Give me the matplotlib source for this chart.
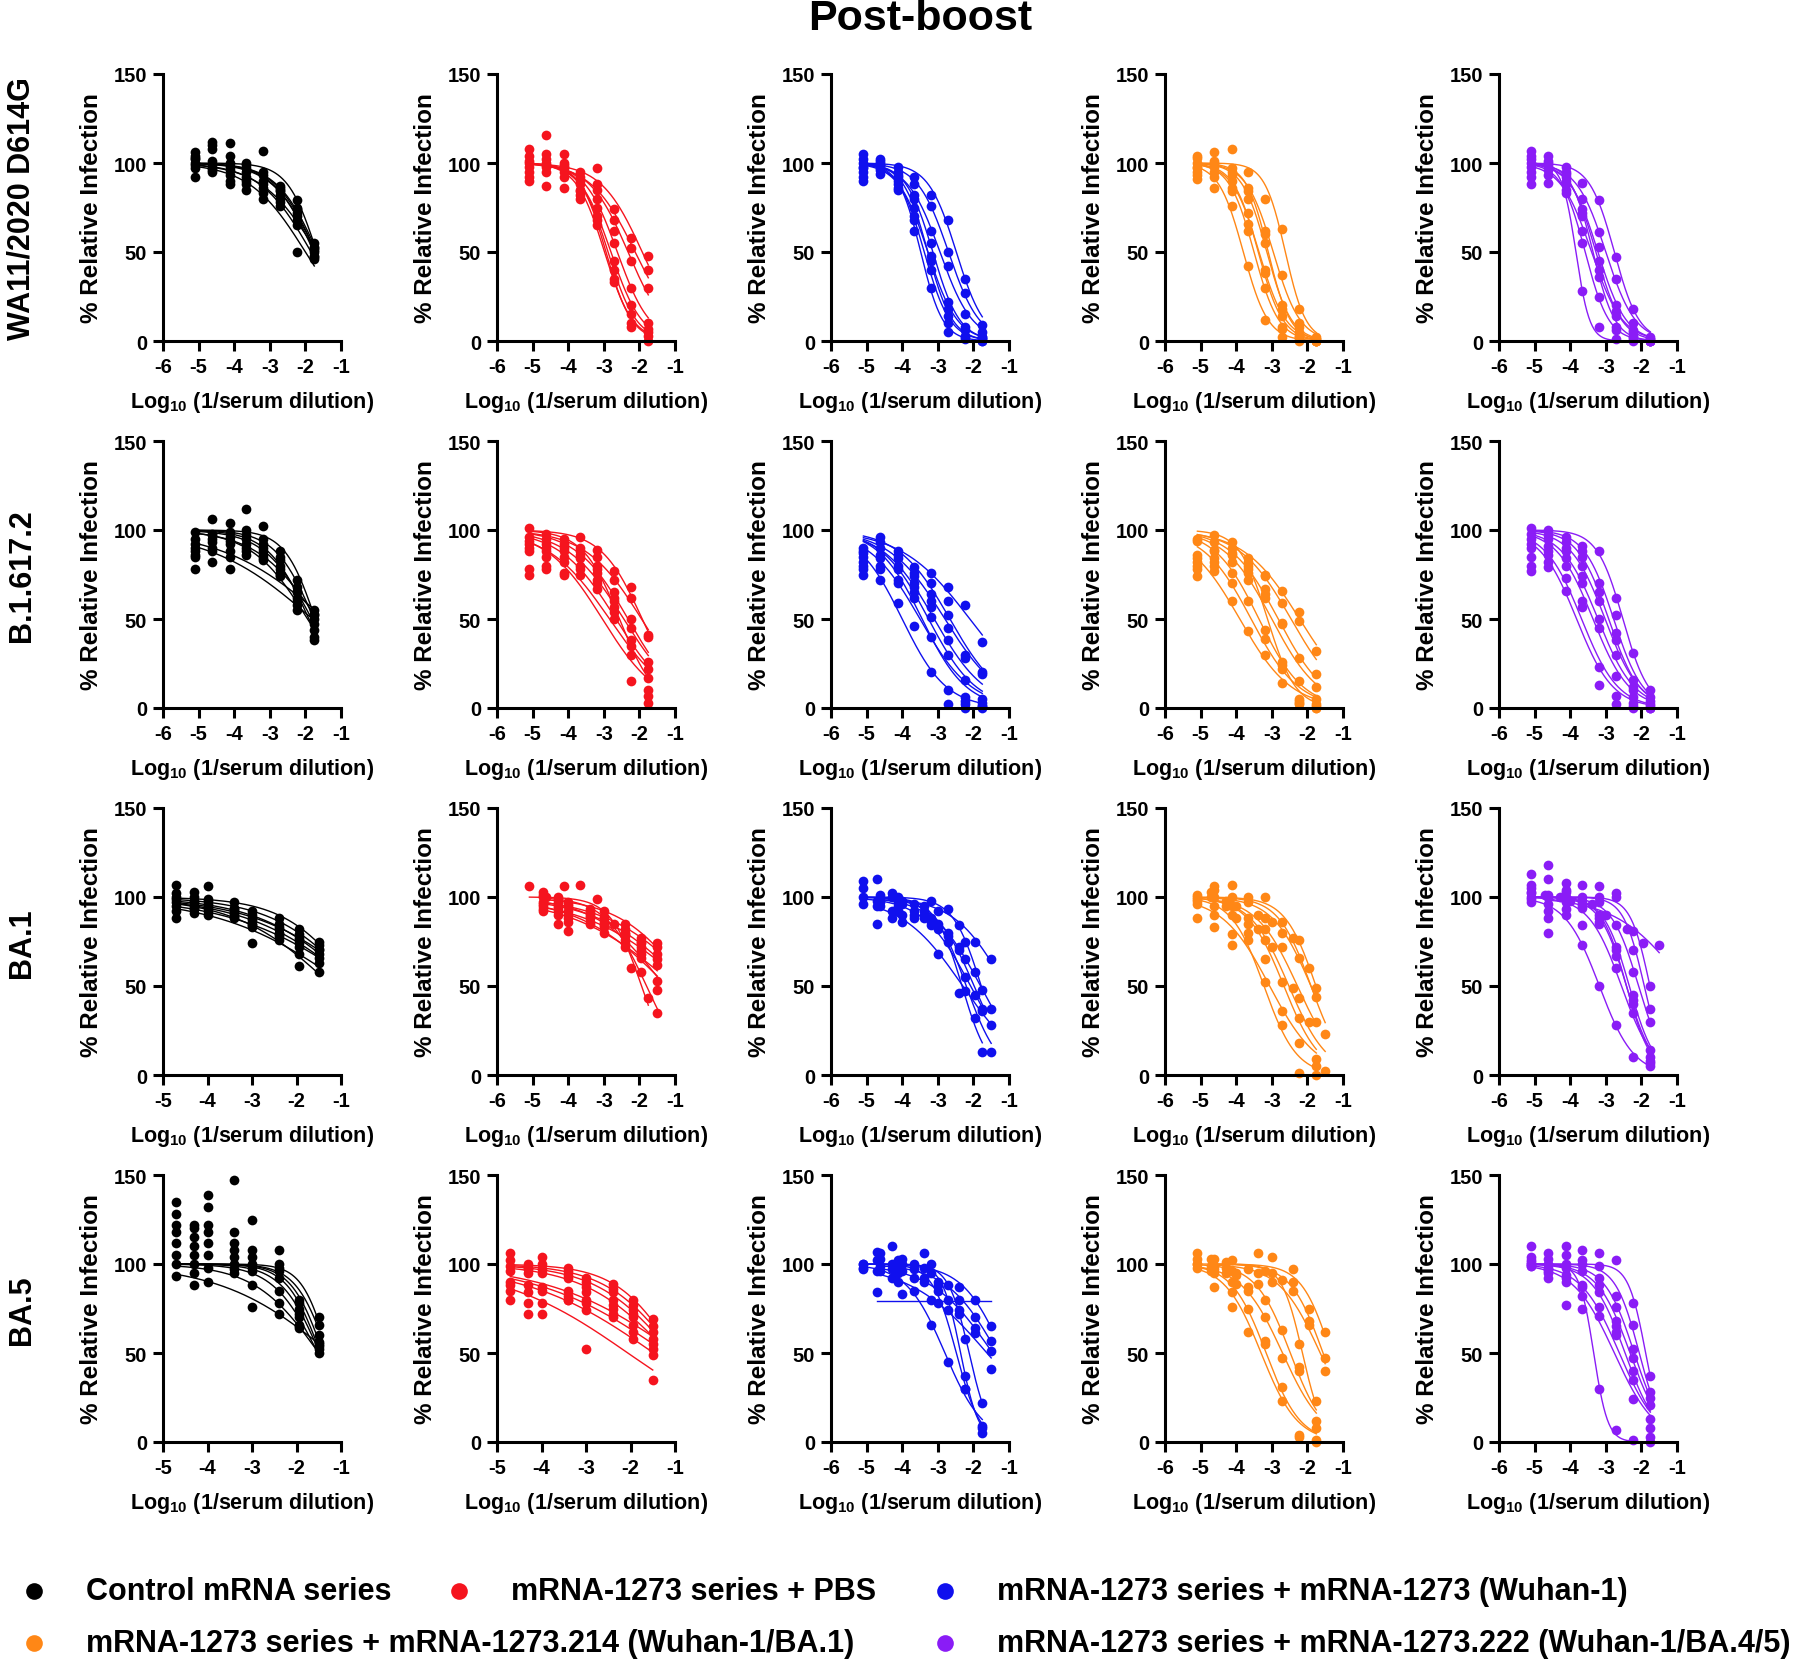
import numpy as np
import matplotlib
matplotlib.use("Agg")
import matplotlib.pyplot as plt

plt.rcParams["font.family"] = ["Liberation Sans", "DejaVu Sans"]
plt.rcParams["font.weight"] = "bold"
plt.rcParams["axes.unicode_minus"] = False
plt.rcParams["mathtext.fontset"] = "custom"
plt.rcParams["mathtext.rm"] = "Liberation Sans:bold"
plt.rcParams["mathtext.bf"] = "Liberation Sans:bold"

# ---- dilution series, log10(1/serum dilution) ----
dil_3x = [-5.09, -4.61, -4.13, -3.66, -3.18, -2.70, -2.23, -1.75]
dil_b = [-4.7, -4.3, -4.0, -3.4, -3.0, -2.4, -1.95, -1.5]

variants = ["WA11/2020 D614G", "B.1.617.2", "BA.1", "BA.5"]
group_names = ["Control mRNA series", "mRNA-1273 series + PBS",
               "mRNA-1273 series + mRNA-1273 (Wuhan-1)",
               "mRNA-1273 series + mRNA-1273.214 (Wuhan-1/BA.1)",
               "mRNA-1273 series + mRNA-1273.222 (Wuhan-1/BA.4/5)"]
group_colors = ["#000000", "#f5141e", "#1010ee", "#ff8716", "#8a1cf6"]

# ---- % relative infection, one row per animal ----
# WA1/2020 D614G
wa_ctrl = [[104, 112, 111, 99, 107, 87, 79, 55], [100, 96, 98, 95, 93, 86, 75, 52],
           [97, 108, 90, 88, 86, 80, 70, 50], [106, 101, 104, 92, 90, 82, 72, 48],
           [92, 99, 93, 97, 83, 78, 65, 46], [102, 110, 88, 85, 80, 76, 50, 47],
           [99, 97, 100, 90, 95, 84, 68, 53], [103, 95, 96, 100, 88, 85, 74, 51]]
wa_pbs = [[100, 116, 100, 95, 97, 74, 58, 48], [95, 105, 98, 92, 88, 68, 52, 40],
          [108, 98, 105, 90, 85, 62, 45, 30], [92, 87, 95, 88, 80, 55, 30, 10],
          [98, 100, 86, 85, 75, 45, 20, 5], [104, 95, 99, 82, 70, 40, 15, 3],
          [90, 102, 92, 84, 68, 35, 10, 0], [101, 99, 97, 80, 65, 33, 8, 7]]
wa_wuhan = [[102, 100, 98, 92, 82, 68, 35, 9], [98, 101, 95, 88, 76, 50, 27, 5],
            [95, 97, 93, 82, 62, 42, 15, 2], [100, 99, 90, 80, 55, 22, 8, 1],
            [105, 102, 85, 75, 45, 14, 3, 0], [90, 96, 88, 68, 40, 10, 2, 1],
            [97, 94, 92, 62, 30, 5, 1, 0], [92, 99, 86, 70, 48, 18, 6, 2]]
wa_214 = [[103, 106, 108, 95, 80, 63, 18, 2], [98, 100, 97, 86, 62, 37, 10, 1],
          [95, 99, 93, 80, 55, 20, 5, 0], [100, 92, 86, 72, 38, 8, 2, 0],
          [91, 86, 76, 42, 12, 2, 0, 0], [97, 98, 90, 66, 40, 14, 3, 1],
          [104, 95, 84, 62, 30, 7, 1, 0], [93, 101, 95, 84, 60, 18, 8, 0]]
wa_222 = [[107, 104, 98, 89, 79, 47, 18, 2], [100, 98, 95, 80, 61, 35, 10, 1],
          [95, 100, 92, 70, 53, 20, 5, 0], [88, 89, 90, 62, 40, 14, 3, 0],
          [102, 96, 85, 55, 25, 6, 1, 0], [98, 101, 83, 28, 8, 1, 0, 0],
          [104, 93, 88, 74, 36, 8, 2, 1], [92, 99, 94, 72, 45, 17, 6, 0]]

# B.1.617.2
delta_ctrl = [[99, 106, 104, 112, 102, 88, 72, 55], [95, 98, 96, 100, 95, 85, 68, 50],
              [90, 93, 92, 97, 90, 80, 65, 47], [88, 95, 99, 95, 92, 83, 62, 44],
              [85, 90, 88, 92, 86, 78, 60, 40], [78, 82, 78, 86, 84, 75, 55, 38],
              [92, 97, 94, 90, 88, 76, 66, 52], [86, 88, 85, 88, 83, 74, 58, 53]]
delta_pbs = [[101, 98, 95, 96, 89, 77, 68, 41], [96, 95, 92, 90, 85, 72, 62, 40],
             [92, 90, 88, 88, 80, 65, 50, 26], [90, 88, 85, 84, 78, 60, 45, 22],
             [88, 85, 82, 80, 72, 57, 35, 17], [78, 80, 76, 78, 70, 54, 30, 10],
             [75, 78, 75, 75, 67, 50, 15, 3], [94, 92, 90, 86, 76, 62, 38, 7]]
delta_wuhan = [[90, 96, 88, 79, 76, 68, 58, 37], [88, 93, 86, 76, 70, 60, 30, 20],
               [85, 90, 84, 74, 64, 52, 28, 19], [82, 86, 80, 70, 57, 45, 16, 5],
               [80, 84, 78, 68, 51, 38, 6, 3], [78, 80, 72, 62, 40, 30, 4, 1],
               [75, 72, 59, 46, 20, 2, 0, 0], [87, 78, 70, 65, 60, 10, 2, 1]]
delta_214 = [[95, 97, 93, 84, 75, 66, 54, 32], [86, 93, 90, 82, 74, 59, 49, 19],
             [84, 88, 86, 80, 67, 48, 28, 12], [82, 84, 82, 76, 64, 47, 15, 5],
             [80, 82, 76, 72, 44, 26, 5, 2], [78, 80, 70, 60, 39, 22, 2, 1],
             [74, 77, 60, 43, 30, 14, 3, 0], [94, 89, 87, 78, 62, 24, 4, 0]]
delta_222 = [[101, 100, 96, 91, 88, 62, 31, 10], [98, 97, 93, 88, 70, 52, 16, 6],
             [95, 95, 90, 85, 65, 42, 12, 4], [92, 91, 88, 80, 60, 38, 10, 2],
             [90, 88, 84, 74, 50, 30, 6, 1], [85, 86, 80, 70, 45, 18, 3, 0],
             [80, 82, 73, 60, 23, 7, 1, 0], [77, 79, 66, 57, 13, 2, 0, 0]]

# BA.1
ba1_ctrl = [[107, 103, 106, 97, 92, 88, 82, 75], [102, 100, 99, 94, 90, 85, 79, 73],
            [99, 97, 98, 92, 87, 83, 76, 70], [97, 95, 94, 91, 85, 80, 74, 68],
            [95, 93, 92, 90, 83, 79, 72, 66], [92, 91, 90, 88, 74, 76, 68, 63],
            [88, 94, 95, 93, 84, 78, 61, 58], [100, 98, 96, 89, 88, 82, 77, 71]]
ba1_pbs_a = [[106, 100, 106, 107, 99, 85, 60, 43]]
ba1_pbs_b = [[103, 100, 97, 93, 92, 85, 77, 74], [100, 97, 95, 91, 89, 82, 75, 72],
             [97, 95, 92, 90, 86, 80, 72, 68], [95, 92, 88, 89, 84, 78, 70, 65],
             [93, 85, 81, 85, 80, 74, 66, 62], [101, 99, 96, 92, 88, 76, 58, 35],
             [92, 90, 86, 86, 83, 72, 68, 53], [96, 94, 90, 88, 85, 79, 74, 48]]
ba1_wuhan_a = [[109, 101, 97, 96, 98, 93, 75, 48], [105, 97, 100, 92, 88, 80, 65, 37],
               [100, 95, 92, 90, 86, 78, 47, 13], [96, 99, 95, 88, 84, 75, 55, 36]]
ba1_wuhan_b = [[110, 102, 98, 95, 92, 84, 75, 65], [98, 100, 96, 92, 85, 70, 58, 37],
               [95, 92, 90, 88, 82, 72, 32, 13], [85, 88, 86, 90, 68, 46, 45, 28]]
ba1_214_a = [[101, 104, 100, 100, 100, 86, 76, 49], [99, 106, 107, 97, 88, 80, 66, 44],
             [96, 100, 95, 88, 82, 72, 43, 30], [100, 95, 90, 85, 76, 52, 32, 9],
             [88, 83, 73, 80, 65, 36, 18, 5], [98, 90, 79, 76, 52, 28, 1, 0]]
ba1_214_b = [[103, 98, 95, 90, 86, 77, 60, 23], [100, 95, 88, 82, 72, 49, 30, 2]]
ba1_222_a = [[113, 118, 108, 107, 106, 102, 81, 50], [105, 110, 103, 100, 100, 100, 70, 37],
             [102, 101, 100, 98, 97, 84, 58, 30], [100, 96, 99, 96, 90, 72, 45, 14],
             [97, 92, 93, 95, 88, 67, 42, 10], [103, 88, 90, 84, 85, 60, 35, 7],
             [99, 80, 97, 73, 50, 28, 10, 5], [107, 100, 104, 94, 86, 70, 40, 8]]
ba1_222_b = [[101, 100, 98, 96, 90, 82, 74, 73]]

# BA.5
ba5_ctrl = [[135, 122, 139, 147, 125, 108, 80, 70], [128, 120, 132, 118, 108, 100, 78, 66],
            [122, 115, 122, 112, 104, 98, 75, 60], [118, 110, 118, 108, 100, 96, 72, 56],
            [112, 105, 112, 104, 98, 92, 70, 54], [105, 100, 105, 100, 96, 85, 66, 52],
            [100, 95, 98, 97, 88, 78, 65, 50], [93, 88, 90, 95, 76, 72, 64, 55]]
ba5_pbs = [[106, 100, 104, 98, 92, 89, 80, 69], [102, 98, 100, 96, 90, 86, 77, 65],
           [99, 97, 97, 94, 87, 84, 74, 62], [96, 95, 95, 92, 84, 80, 72, 58],
           [90, 88, 87, 85, 80, 77, 70, 55], [88, 84, 85, 82, 78, 75, 66, 52],
           [85, 78, 78, 80, 74, 72, 62, 49], [80, 72, 72, 80, 52, 70, 58, 35]]
ba5_wuhan_a = [[100, 106, 102, 100, 100, 88, 58, 22], [98, 103, 99, 97, 95, 80, 37, 8],
               [100, 99, 95, 92, 80, 74, 30, 5], [97, 96, 90, 85, 66, 45, 30, 9]]
ba5_wuhan_b = [[107, 110, 103, 106, 90, 87, 80, 65], [102, 100, 100, 98, 88, 80, 70, 57],
               [96, 97, 96, 92, 85, 74, 64, 51], [84, 92, 83, 90, 78, 72, 61, 41]]
ba5_wuhan_flat = 79  # one animal whose fit collapsed to a constant
ba5_214_a = [[106, 103, 102, 97, 96, 91, 55, 23], [100, 99, 96, 87, 80, 63, 42, 12],
             [103, 97, 90, 85, 70, 47, 40, 8], [98, 87, 84, 75, 57, 31, 4, 0],
             [100, 95, 76, 62, 55, 23, 3, 1]]
ba5_214_b = [[103, 101, 95, 106, 104, 97, 75, 62], [99, 98, 94, 95, 95, 90, 68, 47],
             [96, 95, 89, 89, 90, 85, 66, 40]]
ba5_222 = [[110, 106, 110, 108, 106, 102, 78, 37], [104, 103, 105, 102, 99, 82, 66, 28],
           [102, 100, 100, 100, 92, 76, 52, 25], [100, 98, 98, 96, 88, 68, 47, 21],
           [101, 95, 94, 88, 84, 65, 40, 13], [99, 92, 90, 82, 76, 60, 35, 8],
           [100, 97, 77, 75, 71, 62, 24, 3], [99, 96, 92, 87, 30, 7, 1, 0]]

# panel layout: row = variant, col = group; each entry lists (dilutions, animals)
panels = [
    [[(dil_3x, wa_ctrl)], [(dil_3x, wa_pbs)], [(dil_3x, wa_wuhan)],
     [(dil_3x, wa_214)], [(dil_3x, wa_222)]],
    [[(dil_3x, delta_ctrl)], [(dil_3x, delta_pbs)], [(dil_3x, delta_wuhan)],
     [(dil_3x, delta_214)], [(dil_3x, delta_222)]],
    [[(dil_b, ba1_ctrl)], [(dil_3x, ba1_pbs_a), (dil_b, ba1_pbs_b)],
     [(dil_3x, ba1_wuhan_a), (dil_b, ba1_wuhan_b)],
     [(dil_3x, ba1_214_a), (dil_b, ba1_214_b)],
     [(dil_3x, ba1_222_a), (dil_b, ba1_222_b)]],
    [[(dil_b, ba5_ctrl)], [(dil_b, ba5_pbs)],
     [(dil_3x, ba5_wuhan_a), (dil_b, ba5_wuhan_b)],
     [(dil_3x, ba5_214_a), (dil_b, ba5_214_b)], [(dil_3x, ba5_222)]],
]
x_left = [[-6] * 5, [-6] * 5, [-5, -6, -6, -6, -6], [-5, -5, -6, -6, -6]]

# ---- 4-parameter fit (top 100, bottom 0), simple grid search ----
c_grid = np.arange(-7, 2, 0.02)
h_grid = np.arange(0.3, 4.0, 0.05)
C, H = np.meshgrid(c_grid, h_grid, indexing="ij")


def fit_curve(x, y):
    x = np.asarray(x, float)
    y = np.asarray(y, float)
    pred = 100 / (1 + 10 ** ((x[None, None, :] - C[..., None]) * H[..., None]))
    sse = ((pred - y) ** 2).sum(-1)
    i, j = np.unravel_index(sse.argmin(), sse.shape)
    return c_grid[i], h_grid[j]


W, Hpx = 1800, 1665
fig = plt.figure(figsize=(W / 100, Hpx / 100), dpi=100)

for r in range(4):
    bottom = 1 - (342 + 367 * r) / Hpx
    for c in range(5):
        ax = fig.add_axes([(163 + 334 * c) / W, bottom, 178 / W, 267 / Hpx])
        col = group_colors[c]
        for x, animals in panels[r][c]:
            xs = np.linspace(min(x), max(x), 200)
            for y in animals:
                lc, hs = fit_curve(x, y)
                ax.plot(xs, 100 / (1 + 10 ** ((xs - lc) * hs)), color=col, lw=1.0)
                ax.plot(x, y, "o", color=col, ms=7, mec="none", clip_on=False)
        if r == 3 and c == 2:
            ax.plot([min(dil_b), max(dil_b)], [ba5_wuhan_flat] * 2, color=col, lw=1.0)
        lo = x_left[r][c]
        ax.set_xlim(lo, -1)
        ax.set_xticks(range(lo, 0))
        ax.set_ylim(0, 150)
        ax.set_yticks([0, 50, 100, 150])
        ax.spines[["top", "right"]].set_visible(False)
        ax.spines[["left", "bottom"]].set_linewidth(2.2)
        ax.tick_params(width=2.2, length=7.5, labelsize=14.5, pad=4)
        ax.set_ylabel("% Relative Infection", fontsize=17.5, fontweight="bold")
        ax.yaxis.set_label_coords(-0.335, 0.5)
        ax.set_xlabel(r"Log$_{\mathbf{10}}$ (1/serum dilution)", fontsize=15.5,
                      fontweight="bold")
        ax.xaxis.set_label_coords(0.5, -0.18)
    fig.text(22 / W, bottom + 133 / Hpx, variants[r], rotation=90, fontsize=22,
             fontweight="bold", ha="center", va="center")

fig.text(920 / W, 1 - 19 / Hpx, "Post-boost", fontsize=31, fontweight="bold",
         ha="center", va="center")

# legend, drawn on a transparent overlay in pixel units
leg = fig.add_axes([0, 0, 1, 1])
leg.set_xlim(0, W)
leg.set_ylim(Hpx, 0)
leg.set_axis_off()
leg_pos = [(34, 1592), (459, 1592), (945, 1592), (34, 1644), (945, 1644)]
for (lx, ly), name, col in zip(leg_pos, group_names, group_colors):
    leg.plot([lx], [ly], "o", color=col, ms=12, mec="none")
    leg.text(lx + 52, ly, name, fontsize=22, fontweight="bold", va="center")

fig.savefig("out.png", dpi=100)
